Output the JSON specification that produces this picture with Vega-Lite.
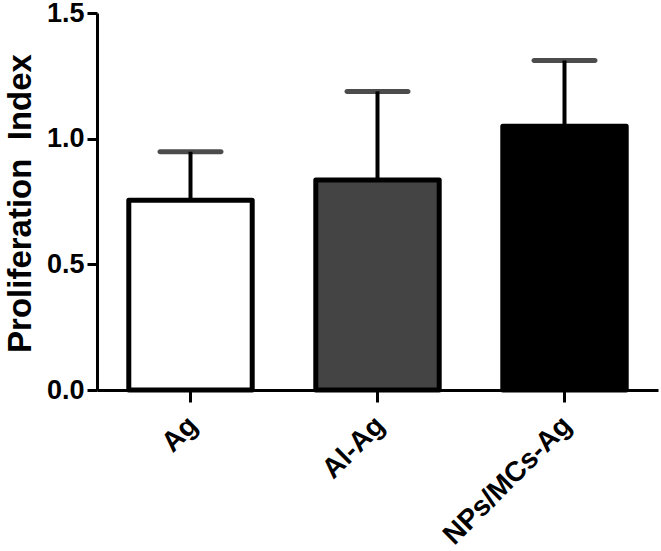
{
  "$schema": "https://vega.github.io/schema/vega-lite/v6.json",
  "autosize": "none",
  "width": 561,
  "height": 377,
  "padding": {"left": 97, "top": 13, "right": 3, "bottom": 161},
  "background": "white",
  "config": {"view": {"stroke": null}, "font": "Liberation Sans"},
  "data": {
    "values": [
      {"group": "Ag", "mean": 0.755, "upper": 0.948, "fill": "#ffffff"},
      {"group": "Al-Ag", "mean": 0.836, "upper": 1.188, "fill": "#444444"},
      {"group": "NPs/MCs-Ag", "mean": 1.049, "upper": 1.311, "fill": "#000000"}
    ]
  },
  "encoding": {
    "x": {
      "field": "group",
      "type": "nominal",
      "sort": null,
      "scale": {"paddingInner": 0.34, "paddingOuter": 0.17},
      "axis": {
        "title": null,
        "domainColor": "black",
        "domainWidth": 3,
        "tickColor": "black",
        "tickWidth": 3,
        "tickSize": 12,
        "labelFont": "Liberation Sans",
        "labelFontWeight": "bold",
        "labelFontSize": 28,
        "labelColor": "black",
        "labelAngle": -45,
        "labelAlign": "right",
        "labelBaseline": "middle",
        "labelPadding": 19,
        "labelOffset": 3
      }
    }
  },
  "layer": [
    {
      "mark": {"type": "bar", "stroke": "black", "strokeWidth": 5, "strokeJoin": "round"},
      "encoding": {
        "y": {
          "field": "mean",
          "type": "quantitative",
          "scale": {"domain": [0, 1.5], "nice": false, "zero": true},
          "axis": {
            "title": "Proliferation\u00a0 Index",
            "titleFont": "Liberation Sans",
            "titleFontWeight": "bold",
            "titleFontSize": 33,
            "titleColor": "black",
            "titlePadding": 9,
            "titleY": 190,
            "values": [0, 0.5, 1, 1.5],
            "format": ".1f",
            "grid": false,
            "domainColor": "black",
            "domainWidth": 3,
            "tickColor": "black",
            "tickWidth": 3,
            "tickSize": 10,
            "labelFont": "Liberation Sans",
            "labelFontWeight": "bold",
            "labelFontSize": 27,
            "labelColor": "black",
            "labelPadding": 3
          }
        },
        "fill": {"field": "fill", "type": "nominal", "scale": null}
      }
    },
    {
      "mark": {"type": "rule", "color": "black", "strokeWidth": 4},
      "encoding": {
        "y": {"field": "mean", "type": "quantitative"},
        "y2": {"field": "upper"}
      }
    },
    {
      "mark": {"type": "tick", "color": "black", "thickness": 5, "size": 66, "cornerRadius": 2.5, "orient": "horizontal"},
      "encoding": {
        "y": {"field": "upper", "type": "quantitative"}
      }
    }
  ]
}
